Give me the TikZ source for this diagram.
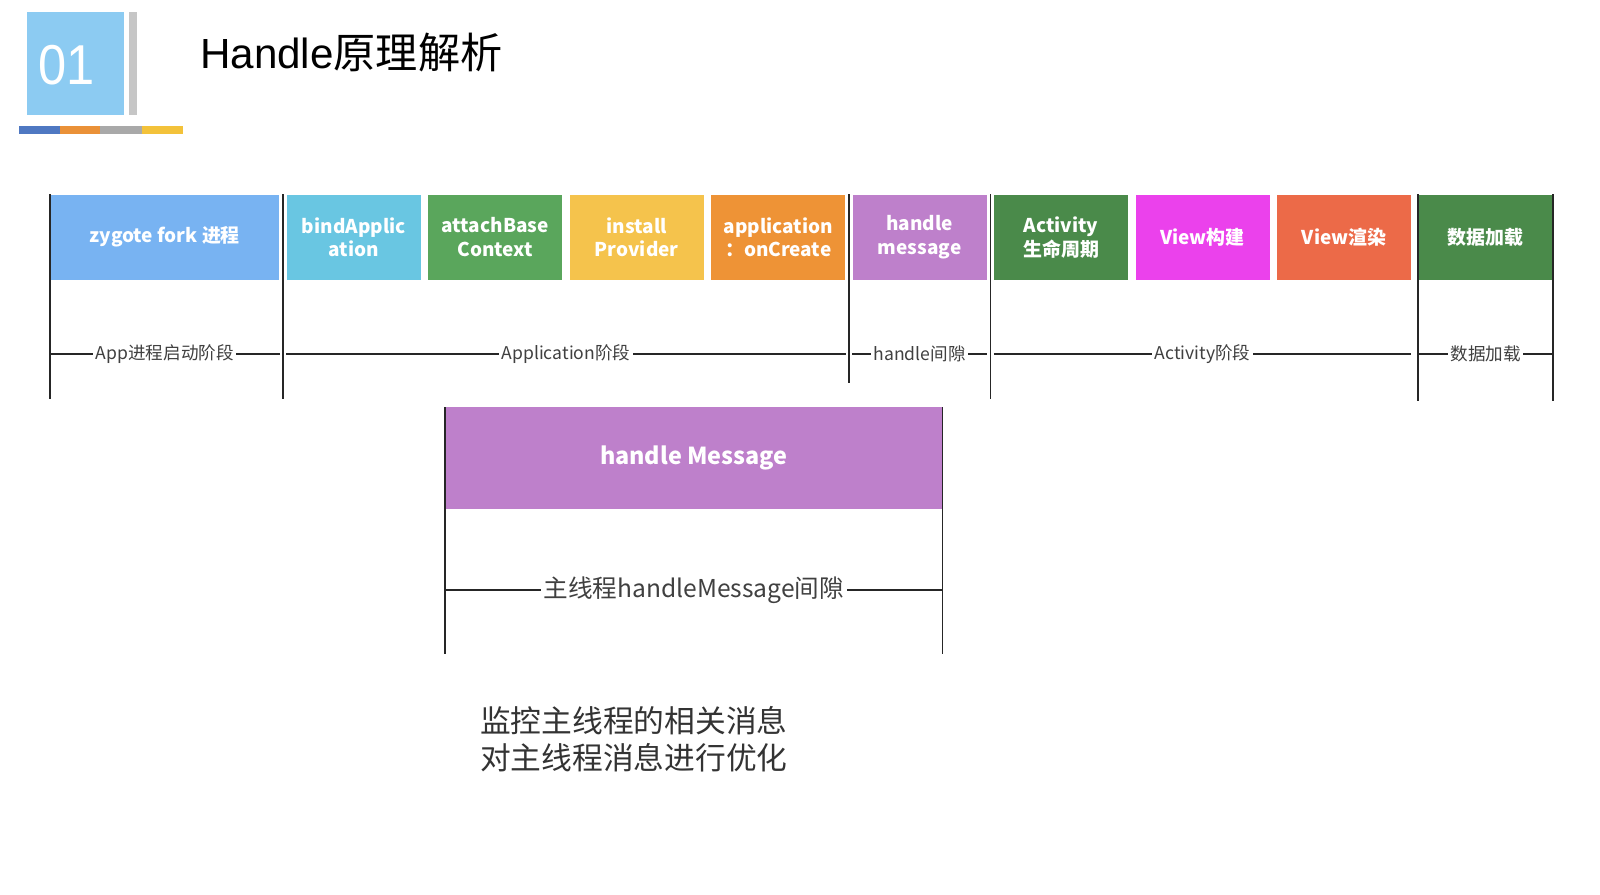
\documentclass[tikz,border=0pt]{standalone}
\usepackage{fontspec}
\setmainfont{Noto Sans CJK SC}
\newfontfamily\arialfont{Liberation Sans}
\usetikzlibrary{calc}
\definecolor{logoblue}{HTML}{8CCBF2}
\definecolor{logogray}{HTML}{C6C6C6}
\definecolor{barblue}{HTML}{4F78C2}
\definecolor{barorange}{HTML}{EA9138}
\definecolor{bargray}{HTML}{A9A9A9}
\definecolor{baryellow}{HTML}{F3C23A}
\definecolor{zygblue}{HTML}{78B3F2}
\definecolor{bindcyan}{HTML}{69C6E2}
\definecolor{attgreen}{HTML}{5AA65C}
\definecolor{instyellow}{HTML}{F5C34C}
\definecolor{apporange}{HTML}{EE9336}
\definecolor{hmpurple}{HTML}{BE80CB}
\definecolor{actgreen}{HTML}{4A8A4A}
\definecolor{vbmagenta}{HTML}{EB41EC}
\definecolor{vrred}{HTML}{EC6A48}
\begin{document}
\begin{tikzpicture}[x=0.02cm, y=-0.02cm,
    box/.style={text=white, font=\bfseries\fontsize{10.8}{13.6}\selectfont, align=center,
      minimum width=2.68cm, minimum height=1.7cm, inner sep=0pt},
    lbl/.style={fill=white, inner sep=1.5pt, text=black!75, font=\fontsize{10}{12}\selectfont},
    tick/.style={line width=1pt, black!85}]
  \useasboundingbox (0,0) rectangle (1600,894);
  \fill[white] (0,0) rectangle (1600,894);
  % logo and title
  \fill[logoblue] (27,12) rectangle (124,115);
  \fill[logogray] (129,12) rectangle (137,115);
  \fill[barblue] (19,126) rectangle (60,134);
  \fill[barorange] (60,126) rectangle (100,134);
  \fill[bargray] (100,126) rectangle (142,134);
  \fill[baryellow] (142,126) rectangle (183,134);
  \node[text=white, font=\arialfont\fontsize{32}{34}\selectfont, xscale=0.9] (num) at (67,65) {01};
  \node[anchor=west, font=\fontsize{24}{28}\selectfont] (title) at (194,53) {{\arialfont Handle}原理解析};
  % stages
  \matrix[column sep=0.15cm, inner sep=0pt, anchor=north west] at (50,194)
  {
    \node[box, fill=zygblue, minimum width=4.58cm](zyg) {zygote fork 进程}; &
    \node[box, fill=bindcyan](bind) {bindApplic\\ation}; &
    \node[box, fill=attgreen](att) {attachBase\\Context}; &
    \node[box, fill=instyellow](inst) {install\\Provider}; &
    \node[box, fill=apporange](app) {application\\：onCreate}; &
    \node[box, fill=hmpurple](hm) {handle\\message}; &
    \node[box, fill=actgreen](act) {Activity\\生命周期}; &
    \node[box, fill=vbmagenta](vb) {View构建}; &
    \node[box, fill=vrred](vr) {View渲染}; &
    \node[box, fill=actgreen](sj) {数据加载}; \\
  };
  \coordinate (mid) at (0,354);
  \coordinate (bot) at (0,399);
  \coordinate (botb) at (0,383);
  \coordinate (botc) at (0,401);
  \coordinate (s2) at ($(zyg.north east)!.5!(bind.north west)$);
  \coordinate (s3) at ($(app.north east)!.5!(hm.north west)$);
  \coordinate (s4) at ($(hm.north east)!.5!(act.north west)$);
  \draw[tick] (zyg.north west) -- (zyg.north west |- bot);
  \draw[tick] (s2) -- (s2 |- bot);
  \draw[tick] (s3) -- (s3 |- botb);
  \draw[tick] (s4) -- (s4 |- bot);
  \draw[tick] (sj.north west) -- (sj.north west |- botc);
  \draw[tick] (sj.north east) -- (sj.north east |- botc);
  \draw[tick] (zyg.west |- mid) -- node[lbl] {App进程启动阶段} (zyg.east |- mid);
  \draw[tick] (bind.west |- mid) -- node[lbl] {Application阶段} (app.east |- mid);
  \draw[tick] (hm.west |- mid) -- node[lbl] {handle间隙} (hm.east |- mid);
  \draw[tick] (act.west |- mid) -- node[lbl] {Activity阶段} (vr.east |- mid);
  \draw[tick] (sj.west |- mid) -- node[lbl] {数据加载} (sj.east |- mid);
  % main thread message
  \node[box, fill=hmpurple, anchor=north west, minimum width=9.94cm, minimum height=2.04cm,
    font=\bfseries\fontsize{13.3}{16}\selectfont] (hM) at (445,407) {handle Message};
  \coordinate (mid2) at (0,590);
  \coordinate (bot2) at (0,654);
  \draw[tick] (hM.north west) -- (hM.north west |- bot2);
  \draw[tick] (hM.north east) -- (hM.north east |- bot2);
  \draw[tick] (hM.west |- mid2) -- node[lbl, font=\fontsize{14}{16}\selectfont] {主线程handleMessage间隙} (hM.east |- mid2);
  \node[anchor=west, align=left, text=black!80, font=\fontsize{17.5}{21}\selectfont] (note) at (474,739.5)
    {监控主线程的相关消息\\对主线程消息进行优化};
\end{tikzpicture}
\end{document}
